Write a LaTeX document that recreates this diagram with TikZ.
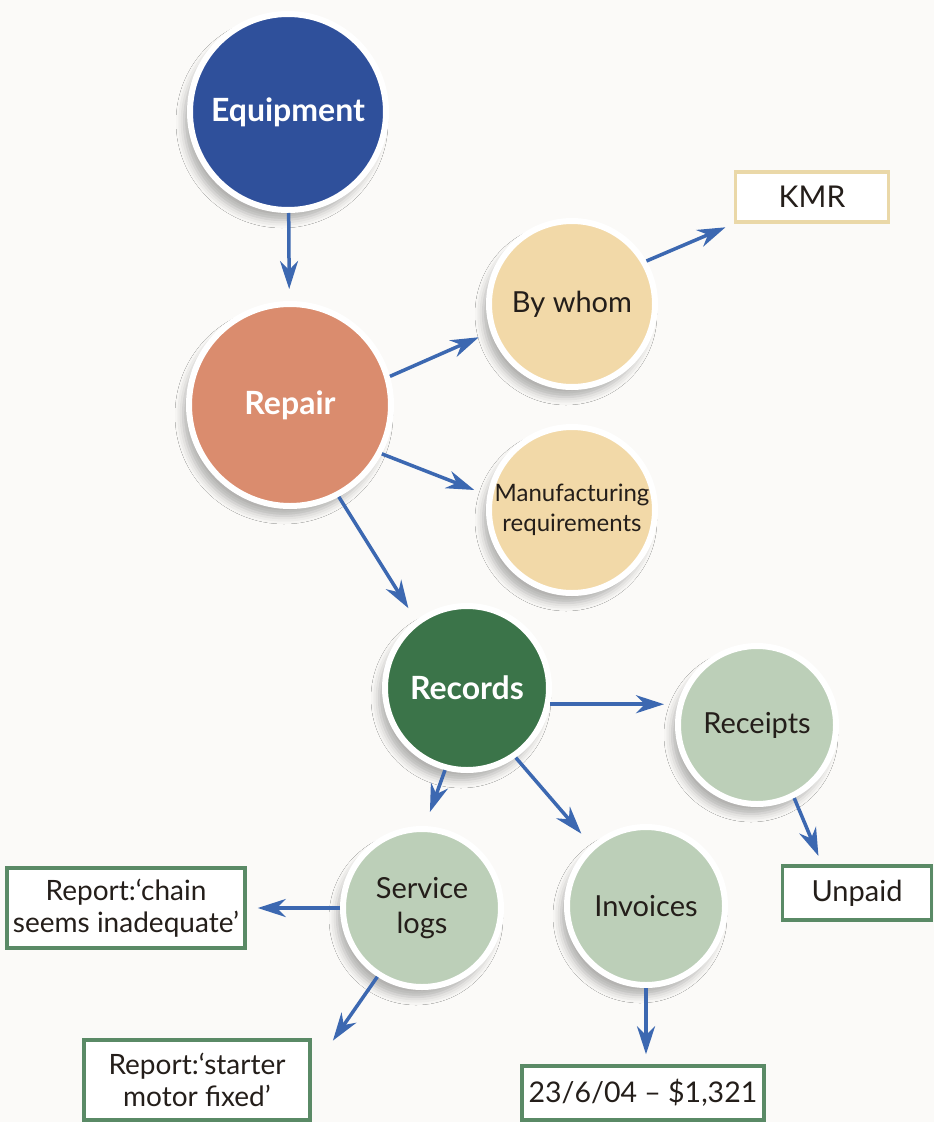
\documentclass[tikz,border=0pt]{standalone}
\usepackage{fontspec}
\setmainfont{Lato}
\usetikzlibrary{arrows.meta,shadows.blur,calc}

\definecolor{paper}{RGB}{251,250,248}
\definecolor{eqBlue}{RGB}{47,80,155}
\definecolor{repSalmon}{RGB}{218,140,110}
\definecolor{tanFill}{RGB}{242,217,168}
\definecolor{recGreen}{RGB}{59,116,73}
\definecolor{sageFill}{RGB}{188,207,184}
\definecolor{arrowBlue}{RGB}{60,104,177}
\definecolor{tagGreen}{RGB}{90,138,102}
\definecolor{tagTan}{RGB}{234,216,168}
\definecolor{inktext}{RGB}{36,30,26}

\begin{document}
\begin{tikzpicture}[x=1pt,y=-1pt,
  bubble/.style={circle, draw=white, line width=6pt, inner sep=0pt, align=center,
    blur shadow={shadow xshift=-6pt, shadow yshift=-10pt, shadow blur radius=8pt,
      shadow opacity=30}},
  mainlbl/.style={font=\fontsize{32}{36}\selectfont\bfseries, text=white},
  sublbl/.style={font=\fontsize{29}{35}\selectfont, text=inktext},
  tag/.style={draw=tagGreen, line width=3.5pt, fill=white, inner sep=0pt, align=center,
    font=\fontsize{28}{32}\selectfont, text=inktext},
  arr/.style={draw=arrowBlue, line width=3.5pt, -{Stealth[length=28pt,width=18pt,inset=9pt]}},
]
% canvas
\fill[paper] (0,0) rectangle (934,1122);
\useasboundingbox (0,0) rectangle (934,1122);

% circles
\node[bubble, fill=eqBlue, minimum size=196pt, mainlbl] (eq) at (288,112) {Equipment};
\node[bubble, fill=repSalmon, minimum size=202pt, mainlbl] (rep) at (290,405) {Repair};
\node[bubble, fill=tanFill, minimum size=166pt, sublbl] (bw) at (572,304) {By whom};
\node[bubble, fill=tanFill, minimum size=166pt, sublbl, font=\fontsize{24}{30}\selectfont] (mr) at (572,510) {Manufacturing\\requirements};
\node[bubble, fill=recGreen, minimum size=164pt, mainlbl] (rec) at (467,688) {Records};
\node[bubble, fill=sageFill, minimum size=158pt, sublbl] (rc) at (757,725) {Receipts};
\node[bubble, fill=sageFill, minimum size=158pt, sublbl] (sl) at (422,908) {Service\\logs};
\node[bubble, fill=sageFill, minimum size=158pt, sublbl] (inv) at (646,906) {Invoices};

% boxes
\node[tag, draw=tagTan, minimum width=153pt, minimum height=50pt, font=\fontsize{30}{34}\selectfont] (kmr) at (812,197) {KMR};
\node[tag, minimum width=149pt, minimum height=54pt, font=\fontsize{29}{34}\selectfont] (un) at (857,893) {Unpaid};
\node[tag, minimum width=238pt, minimum height=80pt] (chain) at (126,908) {Report:‘chain\\seems inadequate’};
\node[tag, minimum width=226pt, minimum height=80pt] (starter) at (197,1080) {Report:‘starter\\motor fixed’};
\node[tag, minimum width=242pt, minimum height=54pt, font=\fontsize{28.5}{34}\selectfont] (date) at (643,1093) {23/6/04 – \$1,321};

% connectors
\draw[arr, shorten >=12pt] (eq) -- (rep);
\draw[arr, shorten >=13pt] (rep.16) -- (bw.199);
\draw[arr, shorten >=14pt] (rep.332) -- (mr.170);
\draw[arr, shorten >=14pt] (rep.298) -- (rec.127);
\draw[arr, shorten >=9pt] (bw.30) -- (kmr.south west);
\draw[arr, shorten >=11pt] (rec.349) -- (rec.349 -| rc.west);
\draw[arr, shorten >=15pt] (rec.255) -- (sl.88);
\draw[arr, shorten >=15pt] (rec.305) -- (inv.132);
\draw[arr, shorten >=9pt] (rc.297) -- ($(un.north west)!0.27!(un.north east)$);
\draw[arr, shorten >=11pt] (sl.west) -- (chain.east);
\draw[arr, shorten >=2pt] (sl.237) -- ($(starter.north east)+(20,4)$);
\draw[arr, shorten >=10pt] (inv.south) -- (inv.south |- date.north);
\end{tikzpicture}
\end{document}
